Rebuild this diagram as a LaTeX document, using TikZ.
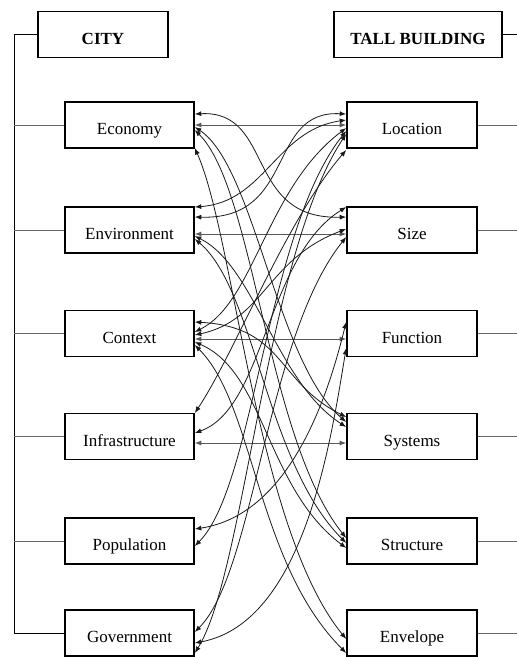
\documentclass[tikz,border=0pt]{standalone}
\usepackage{fontspec}
\setmainfont{Liberation Serif}
\usetikzlibrary{arrows.meta}
\begin{document}
\begin{tikzpicture}[x=1pt,y=-1pt,
  box/.style={draw,line width=1.6pt,minimum width=129pt,minimum height=46pt,inner sep=0pt,text height=19pt,text depth=0pt,font=\fontsize{17}{19}\selectfont},
  head/.style={box,font=\fontsize{17}{19}\selectfont\bfseries},
  branch/.style={line width=0.9pt,black!60},
  trunk/.style={line width=1pt,black},
  link/.style={{Latex[length=6.5pt,width=5pt]}-{Latex[length=6.5pt,width=5pt]},line width=0.8pt,black!90},
  flat/.style={link,black!65,line width=0.9pt}]
\useasboundingbox (0,0) rectangle (517,657);
% header boxes
\node[head,minimum width=130pt] (city) at (103,34.5) {CITY};
\node[head,minimum width=168pt] (tall) at (418,34.5) {TALL BUILDING};
% left boxes
\node[box] (eco) at (129.5,125) {Economy};
\node[box] (envi) at (129.5,230) {Environment};
\node[box] (con) at (129.5,333.5) {Context};
\node[box] (inf) at (129.5,436.5) {Infrastructure};
\node[box] (pop) at (129.5,541) {Population};
\node[box] (gov) at (129.5,633) {Government};
% right boxes
\node[box,minimum width=130pt] (loc) at (412,125) {Location};
\node[box,minimum width=130pt] (siz) at (412,230) {Size};
\node[box,minimum width=130pt] (fun) at (412,333.5) {Function};
\node[box,minimum width=130pt] (sys) at (412,436.5) {Systems};
\node[box,minimum width=130pt] (str) at (412,541) {Structure};
\node[box,minimum width=130pt] (enve) at (412,633) {Envelope};
% left tree
\coordinate (ltop) at (14,34.5);
\coordinate (lbot) at (14,633);
\draw[trunk] (city.west) -- (ltop) -- (lbot) -- (gov.west);
\foreach \n in {eco,envi,con,inf,pop} \draw[branch] (\n.west) -- (ltop |- \n.west);
% right branches
\coordinate (redge) at (517,0);
\draw[trunk] (tall.east) -- (redge |- tall.east);
\foreach \n in {loc,siz,fun,sys,str,enve} \draw[branch] (\n.east) -- (redge |- \n.east);
% straight links
\draw[flat] (eco.east) -- (loc.west);
\draw[flat] ([yshift=-4pt]envi.east) -- ([yshift=-4pt]siz.west);
\draw[flat] ([yshift=-5.5pt]con.east) -- ([yshift=-5.5pt]fun.west);
\draw[flat] ([yshift=-6.5pt]inf.east) -- ([yshift=-6.5pt]sys.west);
% crossing S-curves
\draw[link] ([yshift=11pt]eco.east) .. controls +(80,-4) and +(-102,3) .. ([yshift=13pt]siz.west);
\draw[link] ([yshift=13pt]envi.east) .. controls +(102,3) and +(-80,-4) .. ([yshift=11pt]loc.west);
\draw[link] ([yshift=23pt]envi.east) .. controls +(70,-5) and +(-70,10) .. ([yshift=5pt]loc.west);
% down-right curves
\draw[link] ([yshift=-2pt]eco.east) .. controls +(60,40) and +(-70,-60) .. ([yshift=14.5pt]sys.west);
\draw[link] ([yshift=-5pt]eco.east) .. controls +(60,60) and +(-80,-100) .. ([yshift=3pt]str.west);
\draw[link] ([yshift=-23pt]eco.east) .. controls +(40,90) and +(-90,-110) .. ([yshift=-6pt]enve.west);
\draw[link] ([yshift=-6pt]envi.east) .. controls +(60,30) and +(-70,-45) .. ([yshift=9.5pt]sys.west);
\draw[link] ([yshift=-9pt]envi.east) .. controls +(60,50) and +(-80,-80) .. ([yshift=-2pt]str.west);
\draw[link] ([yshift=11.5pt]con.east) .. controls +(90,5) and +(-70,-35) .. ([yshift=19.5pt]sys.west);
\draw[link] ([yshift=-8.5pt]con.east) .. controls +(70,30) and +(-80,-60) .. ([yshift=-7pt]str.west);
\draw[link] ([yshift=-11.5pt]con.east) .. controls +(60,60) and +(-90,-90) .. ([yshift=-20pt]enve.west);
% up-right curves
\draw[link] ([yshift=1.5pt]con.east) .. controls +(60,-30) and +(-80,60) .. ([yshift=-3pt]loc.west);
\draw[link] ([yshift=-1.5pt]con.east) .. controls +(70,-15) and +(-80,30) .. ([yshift=1pt]siz.west);
\draw[link] ([yshift=23.5pt]inf.east) .. controls +(40,-60) and +(-60,70) .. ([yshift=-25pt]loc.west);
\draw[link] ([yshift=3.5pt]inf.east) .. controls +(70,-25) and +(-80,50) .. ([yshift=23pt]siz.west);
\draw[link] ([yshift=12pt]pop.east) .. controls +(100,-15) and +(-15,60) .. ([yshift=11.5pt]fun.west);
\draw[link] ([yshift=-5pt]pop.east) .. controls +(60,-60) and +(-80,100) .. ([yshift=-6pt]loc.west);
\draw[link] ([yshift=1pt]gov.east) .. controls +(60,-60) and +(-80,100) .. ([yshift=-7pt]siz.west);
\draw[link] ([yshift=-10pt]gov.east) .. controls +(110,-20) and +(-15,90) .. ([yshift=-14.5pt]fun.west);
\draw[link] ([yshift=-20pt]gov.east) .. controls +(50,-80) and +(-80,120) .. ([yshift=-9pt]loc.west);
\end{tikzpicture}
\end{document}
